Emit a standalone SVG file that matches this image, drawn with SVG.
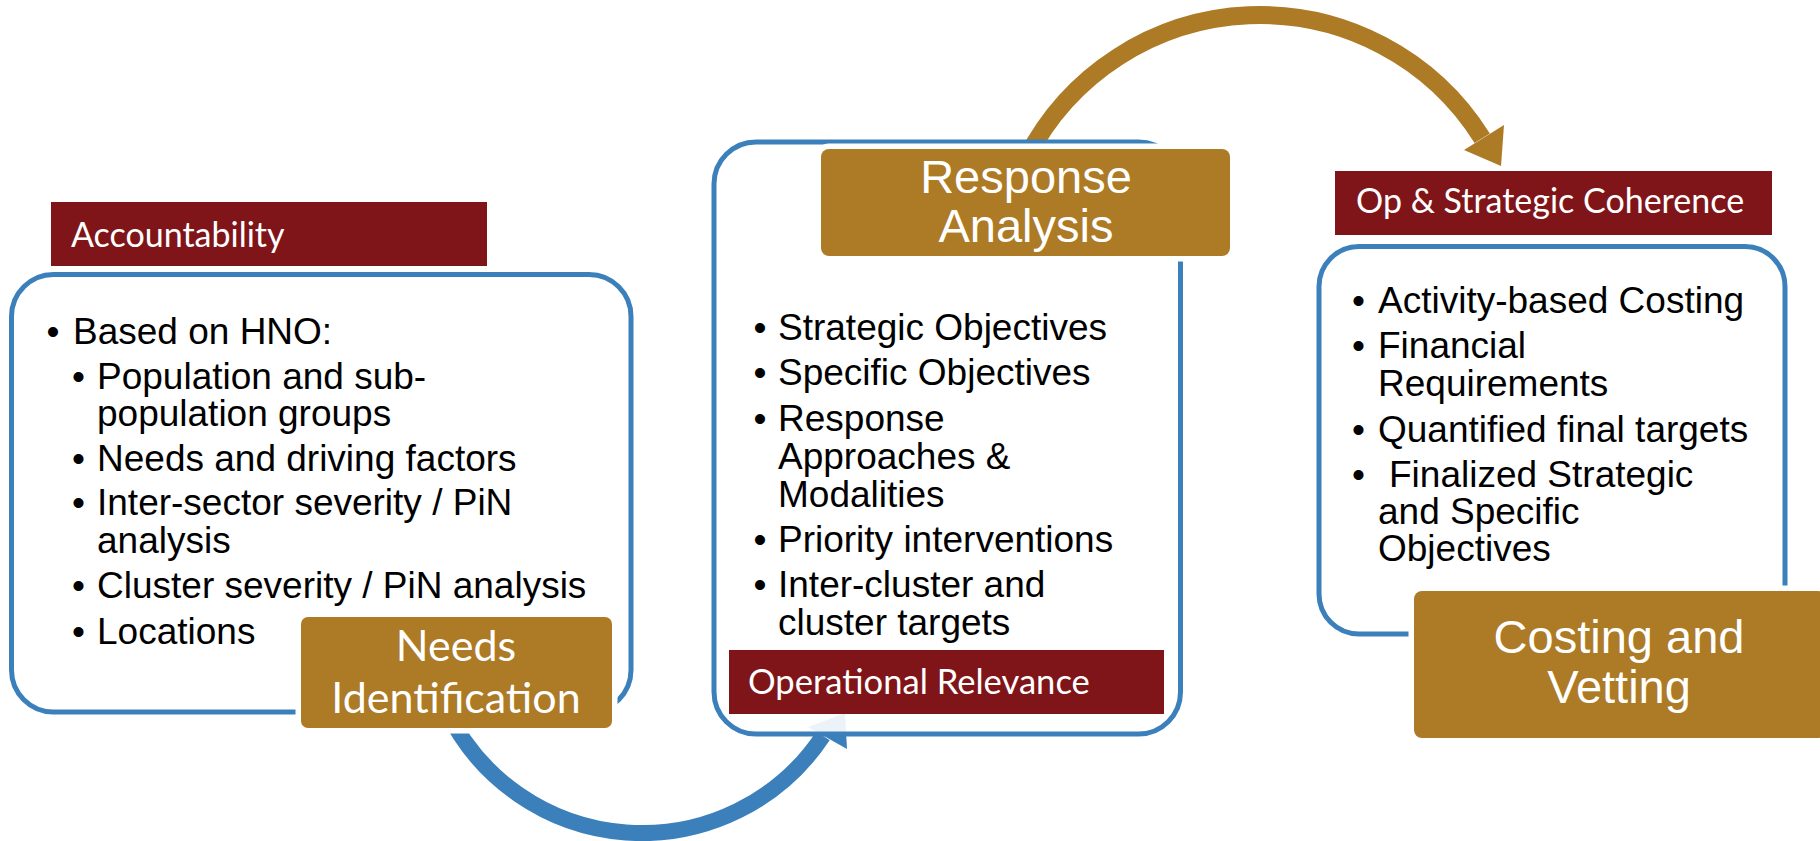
<svg xmlns="http://www.w3.org/2000/svg" width="1820" height="841" viewBox="0 0 1820 841">
<defs>
<style>
.box{fill:#ffffff;fill-opacity:0.9;stroke:#3C80BB;stroke-width:5}
.gold{fill:#AD7A25;stroke:#ffffff;stroke-width:11;paint-order:stroke}
.maroon{fill:#7F1519}
.lbl{font-family:Lato,"Open Sans",sans-serif;fill:#ffffff;font-size:34px}
.big{font-family:"Liberation Sans",Arial,sans-serif;fill:#ffffff;font-size:47px;text-anchor:middle}
.needs{font-family:Lato,"Open Sans",sans-serif;fill:#ffffff;font-size:43px;text-anchor:middle}
.body{font-family:"Liberation Sans",Arial,sans-serif;fill:#000000;font-size:37px}
</style>
</defs>
<rect width="1820" height="841" fill="#ffffff"/>
<g id="connectors">
<path d="M 445.3 707.7 A 217 217 0 0 0 823 735.8" fill="none" stroke="#3C80BB" stroke-width="16"/>
<polygon points="808,727 847,749 845,713" fill="#3C80BB"/>
<path d="M 1026.6 158.1 A 262 262 0 0 1 1482.2 138.2" fill="none" stroke="#AD7A25" stroke-width="18"/>
<polygon points="1464,150 1504,125 1501,166" fill="#AD7A25"/>
</g>
<g id="accountability">
<rect class="maroon" x="51" y="202" width="436" height="64"/>
<text class="lbl" x="71" y="247">Accountability</text>
</g>
<g id="needs-identification">
<rect class="box" x="11.5" y="274.5" width="619.5" height="437.5" rx="42"/>
<text class="body" x="46.5" y="344">•</text>
<text class="body" x="73" y="344">Based on HNO:</text>
<text class="body" x="72" y="389">•</text>
<text class="body" x="97" y="389">Population and sub-</text>
<text class="body" x="97" y="426">population groups</text>
<text class="body" x="72" y="471">•</text>
<text class="body" x="97" y="471">Needs and driving factors</text>
<text class="body" x="72" y="515">•</text>
<text class="body" x="97" y="515">Inter-sector severity / PiN</text>
<text class="body" x="97" y="553">analysis</text>
<text class="body" x="72" y="598">•</text>
<text class="body" x="97" y="598">Cluster severity / PiN analysis</text>
<text class="body" x="72" y="644">•</text>
<text class="body" x="97" y="644">Locations</text>
<rect class="gold" x="301" y="617" width="311" height="111" rx="7"/>
<text class="needs" x="456" y="661">Needs</text>
<text class="needs" x="456" y="713">Identification</text>
</g>
<g id="response-analysis">
<rect class="box" x="714" y="142" width="466.5" height="592" rx="42"/>
<text class="body" x="753.5" y="340">•</text>
<text class="body" x="778" y="340">Strategic Objectives</text>
<text class="body" x="753.5" y="385">•</text>
<text class="body" x="778" y="385">Specific Objectives</text>
<text class="body" x="753.5" y="431">•</text>
<text class="body" x="778" y="431">Response</text>
<text class="body" x="778" y="469">Approaches &amp;</text>
<text class="body" x="778" y="507">Modalities</text>
<text class="body" x="753.5" y="552">•</text>
<text class="body" x="778" y="552">Priority interventions</text>
<text class="body" x="753.5" y="597">•</text>
<text class="body" x="778" y="597">Inter-cluster and</text>
<text class="body" x="778" y="635">cluster targets</text>
<rect class="gold" x="821" y="149" width="409" height="107" rx="8"/>
<text class="big" x="1026" y="193">Response</text>
<text class="big" x="1026" y="242">Analysis</text>
</g>
<g id="operational-relevance">
<rect class="maroon" x="729" y="650" width="435" height="64"/>
<text class="lbl" x="748" y="694" style="font-size:34.6px">Operational Relevance</text>
</g>
<g id="op-strategic-coherence">
<rect class="maroon" x="1335" y="171" width="437" height="64"/>
<text class="lbl" x="1356" y="213">Op &amp; Strategic Coherence</text>
</g>
<g id="costing-vetting">
<rect class="box" x="1319" y="246.5" width="466" height="387.5" rx="40"/>
<text class="body" x="1352" y="313">•</text>
<text class="body" x="1378" y="313">Activity-based Costing</text>
<text class="body" x="1352" y="358">•</text>
<text class="body" x="1378" y="358">Financial</text>
<text class="body" x="1378" y="396">Requirements</text>
<text class="body" x="1352" y="442">•</text>
<text class="body" x="1378" y="442">Quantified final targets</text>
<text class="body" x="1352" y="487">•</text>
<text class="body" x="1389" y="487">Finalized Strategic</text>
<text class="body" x="1378" y="524">and Specific</text>
<text class="body" x="1378" y="561">Objectives</text>
<rect class="gold" x="1414" y="591" width="412" height="147" rx="8"/>
<text class="big" x="1619" y="653">Costing and</text>
<text class="big" x="1619" y="703">Vetting</text>
</g>
</svg>
